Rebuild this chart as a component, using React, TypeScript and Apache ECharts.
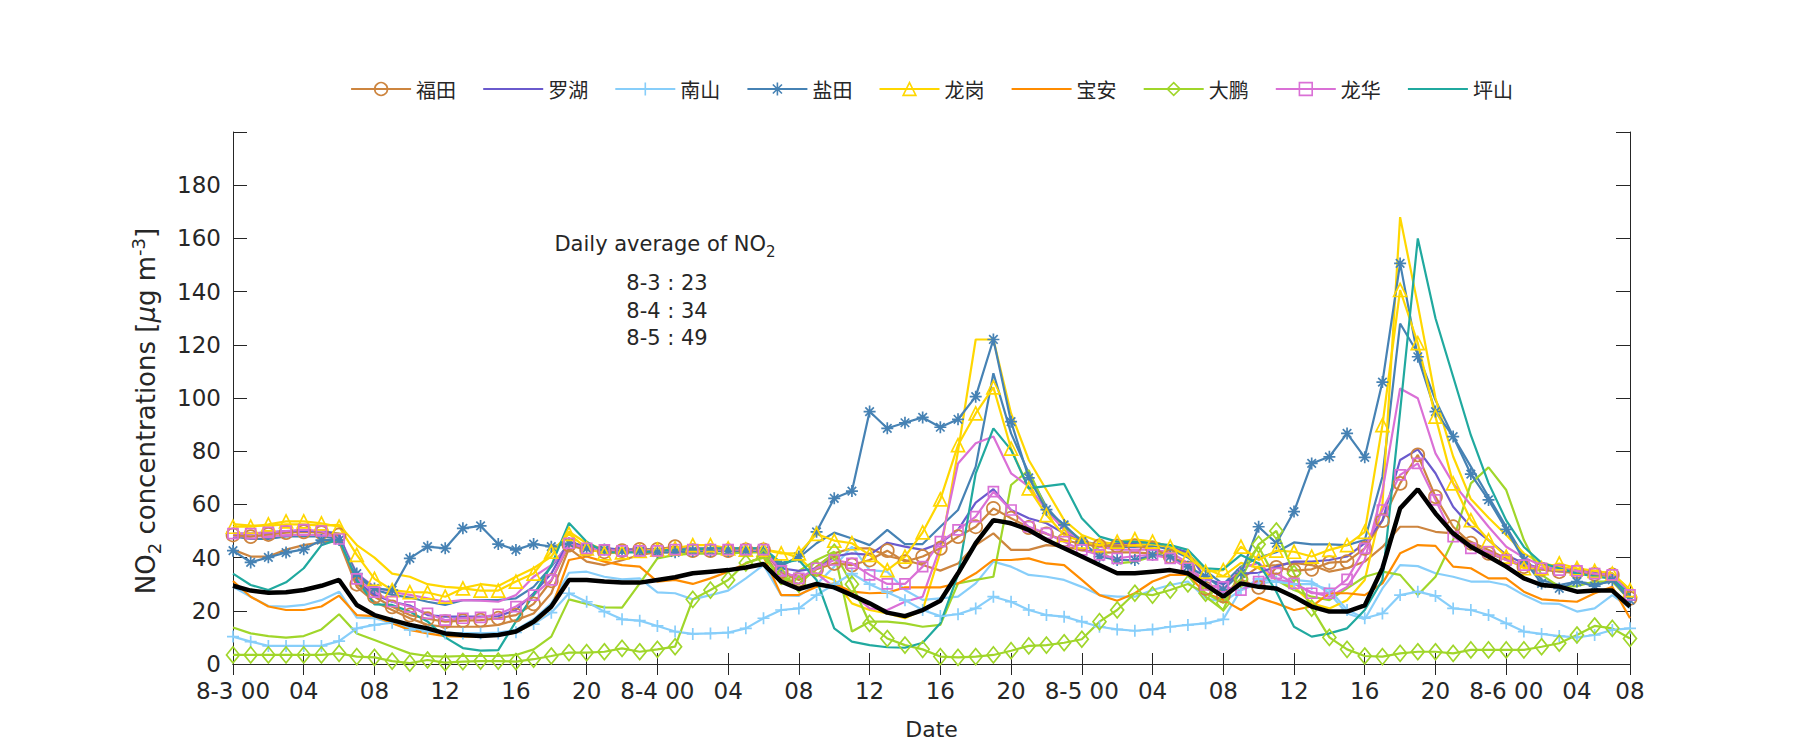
import React, { useEffect, useRef } from 'react';
import * as echarts from 'echarts';

// ---------- categories / tick labels ----------
// 80 hourly samples; ticks every 4 samples plus one at the last sample
const DAY_LABELS = ['8-3', '8-4', '8-5', '8-6'];
const CATEGORIES: string[] = Array.from({ length: 80 }, (_, i) => {
  const d = Math.floor(i / 24);
  const h = i % 24;
  return `${DAY_LABELS[d]} ${String(h).padStart(2, '0')}`;
});
const TICK_INDICES = [0, 4, 8, 12, 16, 20, 24, 28, 32, 36, 40, 44, 48, 52, 56, 60, 64, 68, 72, 76, 79];
const TICK_LABELS = ['8-3 00', '04', '08', '12', '16', '20', '8-4 00', '04', '08', '12', '16', '20',
  '8-5 00', '04', '08', '12', '16', '20', '8-6 00', '04', '08'];
const Y_TICKS_HIDDEN = [200];

// ---------- series values ----------
const FUTIAN = [48.5, 47.9, 48.7, 49.4, 49.7, 49.4, 48.5,
  30, 25.3, 21.5, 18.4,
  17, 15.9, 16.3, 16.5, 17.2, 18.4, 22.6, 31.3, 44.7, 42.9, 42.2,
  42.6, 43.1, 43.1, 44.1, 42.6, 42.6, 42.6, 42.9, 42.9,
  34.7, 31.6,
  35.6, 37.8, 37.2, 39.1, 42.6, 38.5, 40.4, 43.5, 47.9, 51.6, 58.5,
  54.8, 51.3, 48.9, 46.6, 45.1, 44.4, 44.4, 44.4, 43.5, 40.4, 36,
  28.4, 25.6, 31.8, 28.8, 36.3, 35.1, 35.6, 38.1, 38.5, 43.5,
  53.9, 67.9, 78.6, 62.9, 51.6, 45.4, 41.6, 39.1, 36.6, 35.6, 34.7,
  34.7, 33.8, 33.5, 24.7];
const FUTIAN_2 = [43, 40.4, 40.4, 43, 44.7, 45.7, 46,
  29, 23.4, 20.3, 17.2,
  14.7, 14, 14, 14, 14.7, 16.5, 19, 26.6, 43.5, 38.5, 37.2,
  39, 41, 42, 42, 42, 42.5, 42.5, 42.5, 42,
  32, 30,
  36.6, 41.6, 43.5, 43.5, 40.6, 39.1, 37.2, 35.1, 37.8, 44.7, 49.1,
  42.9, 42.9, 44.7, 44.1, 42.9, 41.9, 42, 42, 41.5, 40, 38,
  30, 25.3, 32, 36.6, 37.2, 38, 37.2, 34.7, 36, 38.5,
  44, 51.6, 51.6, 49.7, 49.1, 46, 42.9, 39.7, 36.6, 35.6, 35,
  34, 33.5, 33, 26];
const LUOHU = [49, 49, 49.5, 50, 50, 50, 49,
  31, 26, 23.4, 22,
  18.4, 17.8, 17.8, 17.8, 18, 20.3, 26.6, 34, 46, 44, 43.5,
  43, 43, 43, 43.5, 43.5, 43.5, 43.5, 43.5, 43.5,
  36, 35,
  36, 40.4, 41.6, 41, 45.6, 44.1, 42.9, 45.4, 50.4, 60.7, 65.7,
  57.9, 54.8, 52.9, 49.1, 46, 45, 45.4, 45.5, 46, 44, 42,
  32, 30, 34, 34.3, 36.6, 38.5, 38.5, 39.1, 40.4, 45.4,
  54, 76.7, 80.7, 71.7, 59.1, 51.6, 46.6, 41, 37.8, 36, 35.3,
  35, 34.5, 34, 26];
const NANSHAN = [10.3, 8.4, 6.8, 6.8, 6.8, 6.8, 8.6,
  13.4, 14.7, 15.5, 12.8,
  12.2, 11.5, 11.5, 11.5, 11.5, 11.9, 15, 19.3, 26.6, 23.4, 19.7,
  16.8, 16.3, 14.3, 12.2, 11.3, 11.5, 11.8, 13.4, 17.2,
  20.3, 20.9,
  25.9, 30, 34, 30, 27, 24, 20.3, 18, 18.7, 20.9, 25.3,
  23.4, 20.3, 18.4, 17.8, 15.9, 14, 13, 12.5, 13, 14, 14.7,
  15.3, 16.8, 28, 32, 31, 30, 30, 28, 20.3, 17.2,
  19, 25.9, 27.2, 25.6, 20.9, 20.3, 18.4, 15.3, 12.2, 11.3, 10.5,
  10, 10.9, 12.8, 13.4];
const NANSHAN_2 = [29, 25.3, 21.8, 21.6, 22.2, 24, 27.2,
  17.4, 17.2, 15.3, 13.4,
  12.8, 11.8, 11.5, 11.5, 11.8, 12.8, 16.8, 22.8, 34.3, 34.7, 32.8,
  31.8, 32.2, 26.9, 26.6, 24.3, 25.9, 27.6, 32.2, 37.2,
  25.9, 25.6,
  30, 36.6, 44.1, 35.3, 34.7, 27.8, 24.1, 24.7, 25.3, 30.3, 38.5,
  36.6, 33.5, 32.8, 31.6, 29, 25.9, 25.3, 25.3, 27.8, 29.7, 31,
  24.7, 23.4, 27.8, 30.3, 31, 31.6, 31, 26.6, 19, 16.8,
  28.4, 37.2, 36.8, 34.1, 32.8, 31, 31, 29.7, 25.9, 22.8, 22.6,
  19.7, 20.9, 25.9, 21];
const YANTIAN = [42.6, 38.2, 40.1, 41.9, 43.1, 46.6, 46.6,
  34, 28.4, 27.8, 39.7,
  44.1, 43.5, 51, 51.9, 45.1, 42.9, 45.1, 44.1, 45.4, 43.5, 43,
  42.5, 42.5, 42, 42, 42.5, 42.5, 42.5, 42.5, 42.5,
  37, 40.4,
  49.7, 62.3, 65, 94.9, 88.6, 90.7, 92.7, 89, 92, 100.5, 122,
  91.1, 70, 58, 52.3, 46, 40.4, 39.1, 39.1, 41, 40.4, 36.6,
  33, 28, 34.1, 51.6, 45.4, 57.3, 75.4, 77.9, 86.7, 77.7,
  106, 150.6, 115.5, 94.9, 85.5, 71.4, 61.7, 50.6, 39.1, 30.3, 28.4,
  31, 29.3, 31.6, 24];
const YANTIAN_2 = [48, 47, 47, 48, 48, 48, 47,
  33, 28, 26, 25,
  23.4, 22.2, 24, 24, 24, 24.7, 29, 36.6, 45.4, 44, 43.5,
  43, 43, 43, 43, 43, 43, 43, 43, 43,
  37, 40,
  45.4, 49.4, 47.2, 44.7, 50.4, 45.1, 45.1, 51.6, 57.9, 74.2, 109.3,
  86.7, 71.7, 59, 51.6, 46, 44, 44, 44, 44.5, 43, 40,
  35, 30, 36.6, 40, 42, 45.7, 45, 45, 44.7, 46.6,
  70.4, 128, 116.8, 99.2, 85.5, 74.2, 62.9, 51.6, 40.4, 31.6, 29.7,
  31, 30, 31, 25];
const LONGGANG = [51.6, 51.6, 52.5, 53.6, 53.6, 52.9, 51.6,
  41, 32, 27.8, 27,
  26.9, 25.3, 28.4, 27.6, 27.6, 31, 34, 42.2, 48.9, 43.5, 41.6,
  42, 42.5, 43, 43.5, 44.7, 44.7, 43.5, 43, 43,
  41.6, 41.6,
  48.9, 46.4, 45.4, 41, 35.3, 40.4, 49.5, 61.9, 82.3, 94.2, 104,
  81, 66, 56, 48.5, 46, 44.7, 46, 46.9, 46, 44.1, 40.4,
  34.7, 35.3, 44.1, 39.1, 42.6, 42.2, 40.4, 42.9, 44.7, 49.7,
  89.8, 140.6, 120.6, 93, 67.9, 54.1, 46.6, 40.4, 36, 36, 37.8,
  36, 35, 34, 27.8];
const LONGGANG_2 = [52.6, 52, 52, 52.5, 52.5, 52, 52.3,
  44.7, 40, 34, 32.8,
  30, 29, 28.5, 30, 29.3, 32.8, 36, 40.4, 49.7, 45.4, 43,
  42.5, 42.5, 43, 43, 43, 43, 43, 43, 43,
  42, 40,
  34, 31.6, 22.8, 20.3, 19, 17.2, 20.3, 42, 80, 122, 122,
  94.2, 76.7, 65.4, 54.1, 48.5, 46, 45, 45, 45, 44, 41,
  36, 33, 38, 36, 31.6, 29, 22.8, 20.9, 24, 31.6,
  60, 168, 135, 100, 78, 62, 55, 48.5, 41.6, 37.8, 36.6,
  35.5, 35, 34, 28];
const BAOAN = [31.2, 25.3, 21.6, 20.3, 20.3, 21.6, 25.7,
  18.4, 18, 15.3, 12.8,
  11.5, 10.5, 10.3, 10.3, 10.9, 11.8, 15.3, 20.9, 39.1, 40.4, 38.5,
  37.2, 36.6, 31, 31.6, 30.1, 32.2, 34.7, 37.8, 40.4,
  25.9, 26,
  29, 30.3, 27.2, 26.6, 26.8, 28.8, 28.8, 28.8, 30.3, 34.1, 39.1,
  39.1, 39.7, 37.8, 37.2, 31.6, 25.9, 23.8, 26.6, 31, 33.5, 33.5,
  26.6, 24.1, 20.3, 24.9, 22.8, 20.3, 21.6, 26.6, 26.6, 25.9,
  30.3, 41.6, 44.7, 44.4, 36.6, 36, 32.2, 32.2, 27.2, 24.3, 23.8,
  23.4, 26.6, 29, 17.2];
const DAPENG = [3.4, 3.4, 3.4, 3.4, 3.4, 3.4, 4,
  2.8, 2.5, 1.1, 0.3,
  1.5, 0.5, 0.9, 1.1, 1.1, 0.9, 1.8, 3, 4.3, 4.3, 4.6,
  5.9, 4.6, 5.5, 6.5, 24.3, 27.8, 31.6, 38, 40,
  33, 30,
  36, 42, 30, 15.3, 9.6, 7.1, 5.5, 2.8, 2.5, 2.8, 3.4,
  5, 6.8, 7.1, 8, 9.3, 15.9, 20.3, 26.6, 25.9, 27.8, 30.1,
  26.6, 23, 32, 45, 50, 34, 21, 10, 5.5, 3,
  2.8, 4, 4.6, 4.6, 4, 5.3, 5.3, 5.3, 5.3, 6.5, 7.8,
  10.9, 14.3, 13.4, 9.6];
const DAPENG_2 = [13.7, 11.5, 10.5, 9.9, 10.5, 13, 18.7,
  11.5, 9, 6.5, 4,
  3, 2.8, 3, 3, 3, 3.4, 5.5, 10.3, 24.3, 22.6, 21.3,
  21.2, 30.3, 39.7, 41, 41.5, 41.5, 41.5, 42, 42,
  30, 35,
  39.1, 42.2, 12.2, 15.9, 15.9, 15.3, 14, 14.7, 30.3, 31.6, 32.8,
  67.3, 72.9, 57.9, 51.6, 46.6, 42.9, 37.8, 38.5, 40.4, 42.9, 42,
  25.3, 20.3, 36, 44.1, 31.6, 27.8, 25.3, 24, 28.4, 32.8,
  34.7, 33.5, 25.9, 32.8, 46.6, 67.9, 73.9, 65.4, 46.6, 33.5, 29.1,
  29.3, 31, 31, 24];
const LONGHUA = [49, 49, 49.5, 50, 50.5, 50, 47,
  32, 27, 23.5, 21.5,
  19, 16.5, 17.2, 17.5, 18.7, 21.6, 25.9, 31.6, 45.4, 43.5, 42.9,
  42.5, 42.5, 42.5, 43, 43, 43, 43, 43, 43,
  35, 32.2,
  36, 39.1, 37.8, 33.5, 30.1, 30.1, 36.6, 46, 50.4, 55.4, 64.8,
  57.9, 51.6, 49.1, 46, 42.9, 41, 39.7, 40.6, 41, 39.7, 36,
  29.7, 29, 27.8, 31, 34.1, 30.3, 26.6, 26.6, 31.8, 43.5,
  57.9, 71.1, 75.4, 61.7, 47.9, 43.5, 42.2, 39.1, 37.2, 36, 35.3,
  35, 34, 33.5, 26];
const LONGHUA_2 = [48, 48, 48, 48.5, 48.5, 48.5, 48,
  34, 29, 27, 26,
  24.7, 23.4, 24, 23.8, 23.4, 25.9, 32.8, 37.2, 44.7, 43.5, 43,
  43, 43, 43, 43, 43, 43, 43, 43, 43,
  34, 33,
  34, 29, 26.6, 20.9, 20.3, 23.4, 25.3, 44.1, 75.4, 83, 85.5,
  71.7, 66.7, 57.9, 50.4, 46, 44, 43, 43, 43, 42, 38,
  30, 28, 36, 38, 31.8, 30.3, 27, 25.3, 29, 39.1,
  65, 103.6, 99.9, 79.2, 67.9, 59.8, 51.6, 44.1, 40, 37, 36,
  35, 34.5, 34, 27];
const PINGSHAN = [34, 29.7, 27.8, 30.7, 36, 44.7, 46.9,
  31.6, 22.4, 22.2, 19.7,
  16, 10, 6, 5, 5.2, 16, 26, 37, 53, 46, 42,
  42, 42, 42.5, 43, 43, 43.5, 43.5, 43.5, 43.5,
  38, 39.1,
  31.6, 13.4, 8.4, 7.1, 6.3, 6.1, 8, 15.3, 33.5, 71.7, 88.6,
  80.5, 66, 66.9, 67.7, 54.8, 47.9, 46, 46, 45.4, 44.7, 42.9,
  36, 35.6, 41, 37.8, 27.2, 14, 10.3, 11.5, 13.4, 20.3,
  31.6, 95, 160, 130, 108, 86, 68, 54, 44, 38, 36,
  34, 33, 32, 26];
const AVERAGE = [29.4, 27.6, 26.8, 27, 27.8, 29.4, 31.6,
  22.2, 18.4, 16.5, 14.7,
  13.4, 11.5, 10.9, 10.5, 10.9, 12.2, 15.9, 21.6, 31.6, 31.6, 31,
  30.6, 30.6, 31.6, 32.6, 34.1, 34.7, 35.3, 36.3, 37.6,
  31, 28.2,
  30.1, 28.8, 25.9, 22.8, 19.3, 18, 20.3, 23.8, 34.1, 45.4, 54.1,
  52.9, 50.4, 46.6, 43.5, 40.4, 37.2, 34.1, 34.1, 34.7, 35.3, 34.1,
  29.7, 25.3, 30.3, 29, 28.4, 25.3, 21.6, 19.7, 19.7, 22,
  36, 58.5, 65.7, 56.6, 49.1, 44.1, 40.4, 36.6, 32.2, 29.7, 29.1,
  27.2, 27.6, 27.6, 21.6];

const DAILY_AVG_DAYS = ['8-3', '8-4', '8-5'];
const DAILY_AVG_VALUES = [23, 34, 49];

// ---------- styles ----------
const AXIS_COLOR = '#262626';
const FONT = '"DejaVu Sans", sans-serif';
const ASTERISK = 'path://M0,-10L0,10M-10,0L10,0M-7.1,-7.1L7.1,7.1M-7.1,7.1L7.1,-7.1';
const PLUS = 'path://M0,-10L0,10M-10,0L10,0';
const LINE_W = 2.2;

const MARKED = [
  { name: '福田', data: FUTIAN, color: '#CD853F', symbol: 'circle', size: 13 },
  { name: '罗湖', data: LUOHU, color: '#6A5ACD', symbol: 'none', size: 0 },
  { name: '南山', data: NANSHAN, color: '#87CEFA', symbol: PLUS, size: 12 },
  { name: '盐田', data: YANTIAN, color: '#4682B4', symbol: ASTERISK, size: 12 },
  { name: '龙岗', data: LONGGANG, color: '#FFD700', symbol: 'triangle', size: 13 },
  { name: '宝安', data: BAOAN, color: '#FF8C00', symbol: 'none', size: 0 },
  { name: '大鹏', data: DAPENG, color: '#A0D62A', symbol: 'diamond', size: [13, 16] },
  { name: '龙华', data: LONGHUA, color: '#DA70D6', symbol: 'rect', size: 10 },
  { name: '坪山', data: PINGSHAN, color: '#20A99F', symbol: 'none', size: 0 },
];
const EXTRA = [
  { name: '福田', data: FUTIAN_2, color: '#CD853F' },
  { name: '南山', data: NANSHAN_2, color: '#87CEFA' },
  { name: '盐田', data: YANTIAN_2, color: '#4682B4' },
  { name: '龙岗', data: LONGGANG_2, color: '#FFD700' },
  { name: '大鹏', data: DAPENG_2, color: '#A0D62A' },
  { name: '龙华', data: LONGHUA_2, color: '#DA70D6' },
];

function buildOption(): any {
  const series: any[] = [];
  MARKED.forEach((s) => {
    const hasMark = s.symbol !== 'none';
    series.push({
      type: 'line',
      name: s.name,
      data: s.data,
      z: 3,
      symbol: hasMark ? s.symbol : 'circle',
      symbolSize: hasMark ? s.size : 1,
      showSymbol: hasMark,
      showAllSymbol: true,
      symbolKeepAspect: true,
      lineStyle: { color: s.color, width: LINE_W },
      itemStyle: {
        color: 'rgba(0,0,0,0)',
        borderColor: hasMark ? s.color : 'rgba(0,0,0,0)',
        borderWidth: hasMark ? 1.7 : 0,
      },
      silent: true,
      emphasis: { disabled: true },
    });
  });
  EXTRA.forEach((s) => {
    series.push({
      type: 'line',
      name: s.name,
      data: s.data,
      z: 2,
      symbol: 'none',
      lineStyle: { color: s.color, width: LINE_W },
      itemStyle: { color: s.color },
      silent: true,
      emphasis: { disabled: true },
    });
  });
  series.push({
    type: 'line',
    name: 'average',
    data: AVERAGE,
    z: 4,
    symbol: 'none',
    lineStyle: { color: '#000000', width: 4.5 },
    itemStyle: { color: '#000000' },
    silent: true,
    emphasis: { disabled: true },
  });

  const tickStyle = { color: AXIS_COLOR, width: 1 };
  const labelStyle = { color: AXIS_COLOR, fontSize: 23, fontFamily: FONT };
  const showTick = (i: number) => TICK_INDICES.includes(i);

  const graphics: any[] = [
    {
      type: 'text',
      x: 665,
      y: 244,
      style: {
        text: '{m|Daily average of NO}{s|2}',
        align: 'center',
        verticalAlign: 'middle',
        fill: AXIS_COLOR,
        fontFamily: FONT,
        fontSize: 21,
        rich: {
          m: { fontSize: 21, fontFamily: FONT, lineHeight: 30, fill: AXIS_COLOR },
          s: { fontSize: 15, fontFamily: FONT, lineHeight: 2, verticalAlign: 'bottom', fill: AXIS_COLOR },
        },
      },
    },
  ];
  DAILY_AVG_DAYS.forEach((d, i) => {
    graphics.push({
      type: 'text',
      x: 667,
      y: 283 + i * 27.5,
      style: {
        text: `${d} : ${DAILY_AVG_VALUES[i]}`,
        align: 'center',
        verticalAlign: 'middle',
        fill: AXIS_COLOR,
        fontFamily: FONT,
        fontSize: 21,
      },
    });
  });

  return {
    animation: false,
    backgroundColor: '#ffffff',
    grid: { left: 233, right: 170, top: 132, bottom: 86, containLabel: false },
    legend: {
      data: MARKED.map((s) => s.name),
      left: 345,
      top: 74,
      itemWidth: 60,
      itemHeight: 16,
      itemGap: 26,
      itemStyle: { borderWidth: 1.6 },
      lineStyle: { width: LINE_W },
      textStyle: { fontSize: 20, fontFamily: '"Noto Sans CJK SC", sans-serif', color: AXIS_COLOR },
      selectedMode: false,
    },
    xAxis: [
      {
        type: 'category',
        data: CATEGORIES,
        boundaryGap: false,
        name: 'Date',
        nameLocation: 'middle',
        nameGap: 54,
        nameTextStyle: { fontSize: 22, fontFamily: FONT, color: AXIS_COLOR },
        axisLine: { show: true, lineStyle: tickStyle },
        axisTick: { show: true, inside: true, length: 11, interval: showTick, lineStyle: tickStyle },
        axisLabel: {
          ...labelStyle,
          interval: showTick,
          margin: 15,
          formatter: (_v: string, i: number) => TICK_LABELS[TICK_INDICES.indexOf(i)] ?? '',
        },
        splitLine: { show: false },
      },
      {
        type: 'category',
        data: CATEGORIES,
        boundaryGap: false,
        position: 'top',
        axisLine: { show: true, lineStyle: tickStyle },
        axisTick: { show: true, inside: true, length: 11, interval: showTick, lineStyle: tickStyle },
        axisLabel: { show: false },
        splitLine: { show: false },
      },
    ],
    yAxis: [
      {
        type: 'value',
        min: 0,
        max: 200,
        interval: 20,
        name: '{m|NO}{s|2}{m| concentrations [}{i|μ}{m|g m}{p|-3}{m|]}',
        nameLocation: 'middle',
        nameGap: 70,
        nameRotate: 90,
        nameTextStyle: {
          fontSize: 26,
          fontFamily: FONT,
          color: AXIS_COLOR,
          padding: [0, 26, 0, 0],
          rich: {
            m: { fontSize: 26, fontFamily: FONT, lineHeight: 34, color: AXIS_COLOR },
            i: { fontSize: 26, fontFamily: FONT, fontStyle: 'italic', lineHeight: 34, color: AXIS_COLOR },
            s: { fontSize: 18, fontFamily: FONT, lineHeight: 2, verticalAlign: 'bottom', color: AXIS_COLOR },
            p: { fontSize: 18, fontFamily: FONT, lineHeight: 16, verticalAlign: 'top', color: AXIS_COLOR },
          },
        },
        axisLine: { show: true, lineStyle: tickStyle },
        axisTick: { show: true, inside: true, length: 14, lineStyle: tickStyle },
        axisLabel: {
          ...labelStyle,
          margin: 12,
          formatter: (v: number) => (Y_TICKS_HIDDEN.includes(v) ? '' : String(v)),
        },
        splitLine: { show: false },
      },
      {
        type: 'value',
        min: 0,
        max: 200,
        interval: 20,
        position: 'right',
        axisLine: { show: true, lineStyle: tickStyle },
        axisTick: { show: true, inside: true, length: 14, lineStyle: tickStyle },
        axisLabel: { show: false },
        splitLine: { show: false },
      },
    ],
    series,
    graphic: graphics,
  };
}

export default function App() {
  const ref = useRef<HTMLDivElement>(null);
  useEffect(() => {
    if (!ref.current) return;
    const chart = echarts.init(ref.current, null, { renderer: 'svg' });
    chart.setOption(buildOption());
    return () => chart.dispose();
  }, []);
  return (
    <div
      ref={ref}
      style={{ position: 'fixed', left: 0, top: 0, width: 1800, height: 750, background: '#ffffff' }}
    />
  );
}
